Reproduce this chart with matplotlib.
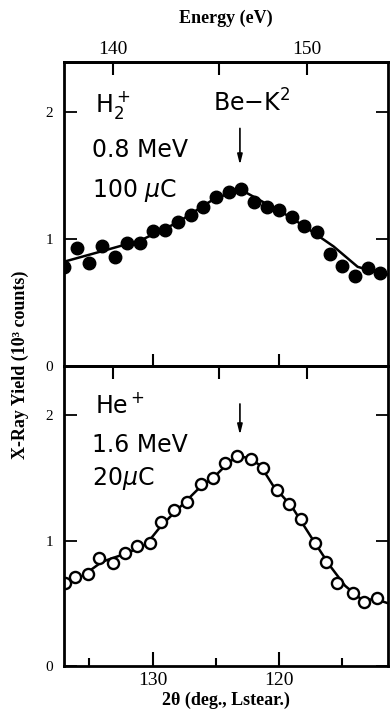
import numpy as np
import matplotlib
matplotlib.use("Agg")
import matplotlib.pyplot as plt

plt.rcParams['font.family'] = ['DejaVu Sans']
plt.rcParams['mathtext.fontset'] = 'dejavusans'

# 2theta (deg) and yield (10^3 counts)
h2_deg = [137, 136, 135, 134, 133, 132, 131, 130, 129, 128, 127, 126, 125,
          124, 123, 122, 121, 120, 119, 118, 117, 116, 115, 114, 113, 112]
h2_yield = [0.78, 0.93, 0.81, 0.94, 0.86, 0.97, 0.97, 1.06, 1.07, 1.13, 1.19, 1.25, 1.33,
            1.37, 1.39, 1.29, 1.25, 1.23, 1.17, 1.10, 1.05, 0.88, 0.79, 0.71, 0.77, 0.73]
h2_fit_deg = [137.0, 134.1, 130.9, 128.0, 125.2, 123.1, 122.0, 119.1, 117.3, 115.7, 113.8, 113.1, 111.4]
h2_fit = [0.82, 0.90, 0.99, 1.13, 1.31, 1.39, 1.33, 1.17, 1.05, 0.94, 0.78, 0.76, 0.72]

he_deg = [136.9, 136.1, 135.1, 134.2, 133.1, 132.2, 131.2, 130.2, 129.3, 128.3, 127.3, 126.2, 125.2,
          124.3, 123.3, 122.2, 121.3, 120.2, 119.2, 118.3, 117.2, 116.3, 115.4, 114.2, 113.3, 112.3]
he_yield = [0.66, 0.71, 0.73, 0.86, 0.82, 0.90, 0.96, 0.98, 1.15, 1.24, 1.31, 1.45, 1.50,
            1.62, 1.67, 1.65, 1.58, 1.40, 1.29, 1.17, 0.98, 0.83, 0.66, 0.58, 0.51, 0.54]
he_fit_deg = [137.0, 135.5, 134.0, 132.0, 130.5, 129.3, 128.0, 126.5, 125.0, 124.0, 123.3,
              122.5, 121.5, 120.5, 119.0, 117.3, 116.0, 114.8, 113.5, 112.3, 111.4]
he_fit = [0.66, 0.72, 0.83, 0.90, 0.97, 1.12, 1.25, 1.40, 1.52, 1.62, 1.67,
          1.66, 1.60, 1.44, 1.27, 1.00, 0.80, 0.64, 0.53, 0.53, 0.50]

peak_deg = 123.1
energy_ticks = [140, 150]
energy_minor = [145]
K = 128.45  # E = K / sin(theta)


def deg_to_ev(d):
    d = np.asarray(d, dtype=float)
    with np.errstate(all='ignore'):
        return K / np.sin(np.radians(d / 2))


def ev_to_deg(e):
    e = np.asarray(e, dtype=float)
    with np.errstate(all='ignore'):
        return 2 * np.degrees(np.arcsin(np.clip(K / e, -1, 1)))


serif = 'Liberation Serif'
fig = plt.figure(figsize=(3.9, 7.18), dpi=100)
ax1 = fig.add_axes([0.164, 0.4902, 0.831, 0.4234])
ax2 = fig.add_axes([0.164, 0.0724, 0.831, 0.4178])

for ax in (ax1, ax2):
    ax.set_xlim(137.0, 111.4)
    ax.set_ylim(0, 2.39)
    for s in ax.spines.values():
        s.set_linewidth(2)
    ax.set_yticks([0, 1, 2])
    ax.tick_params(axis='y', which='both', direction='in', left=True, right=True,
                   length=9, width=1.3, labelsize=11, labelfontfamily=serif, pad=8)
    ax.tick_params(axis='x', which='both', direction='in', top=False, width=1.5)

# upper panel
ax1.plot(h2_fit_deg, h2_fit, color='black', lw=1.8)
ax1.plot(h2_deg, h2_yield, 'o', color='black', ms=9)
ax1.set_xticks([130, 120])
ax1.tick_params(axis='x', length=9, labelbottom=False)
ax1.annotate('', xy=(peak_deg, 1.56), xytext=(peak_deg, 1.89),
             arrowprops=dict(arrowstyle='-|>,head_length=0.6,head_width=0.15', color='black', lw=1.2))
ax1.text(0.096, 0.836, 'H$_2^+$', transform=ax1.transAxes, fontsize=17, va='baseline')
ax1.text(0.46, 0.836, 'Be$-$K$^2$', transform=ax1.transAxes, fontsize=17, va='baseline')
ax1.text(0.086, 0.6875, '0.8 MeV', transform=ax1.transAxes, fontsize=17, va='baseline')
ax1.text(0.086, 0.556, '100 $\\mu$C', transform=ax1.transAxes, fontsize=17, va='baseline')

top1 = ax1.secondary_xaxis('top', functions=(deg_to_ev, ev_to_deg))
top1.set_xticks(energy_ticks)
top1.set_xticks(energy_minor, minor=True)
top1.tick_params(which='both', direction='in', length=9, width=1.5, labelsize=14,
                 labelfontfamily=serif, pad=3)
top1.spines['top'].set_linewidth(2)
top1.set_xlabel('Energy (eV)', fontfamily=serif, fontweight='bold', fontsize=13, labelpad=13)

# lower panel
ax2.plot(he_fit_deg, he_fit, color='black', lw=1.8)
ax2.plot(he_deg, he_yield, 'o', color='black', mfc='white', mew=1.7, ms=8)
ax2.set_xticks([130, 120])
ax2.set_xticks([135, 125, 115], minor=True)
ax2.tick_params(axis='x', which='major', length=10, labelsize=14, labelfontfamily=serif, pad=4)
ax2.tick_params(axis='x', which='minor', length=6)
ax2.set_xlabel('2θ (deg., Lstear.)', fontfamily=serif, fontweight='bold', fontsize=13, labelpad=2)
ax2.annotate('', xy=(peak_deg, 1.82), xytext=(peak_deg, 2.11),
             arrowprops=dict(arrowstyle='-|>,head_length=0.6,head_width=0.15', color='black', lw=1.2))
ax2.text(0.096, 0.843, 'He$^+$', transform=ax2.transAxes, fontsize=17, va='baseline')
ax2.text(0.086, 0.713, '1.6 MeV', transform=ax2.transAxes, fontsize=17, va='baseline')
ax2.text(0.086, 0.603, '20$\\mu$C', transform=ax2.transAxes, fontsize=17, va='baseline')

top2 = ax2.secondary_xaxis('top', functions=(deg_to_ev, ev_to_deg))
top2.set_xticks(energy_ticks + energy_minor)
top2.tick_params(direction='in', length=9, width=1.5, labeltop=False)
top2.spines['top'].set_linewidth(2)

fig.text(20 / 390, 1 - 365 / 718, 'X-Ray Yield (10³ counts)', rotation=90, ha='center', va='center',
         fontfamily=serif, fontweight='bold', fontsize=13)

fig.savefig('out.png', dpi=100)
